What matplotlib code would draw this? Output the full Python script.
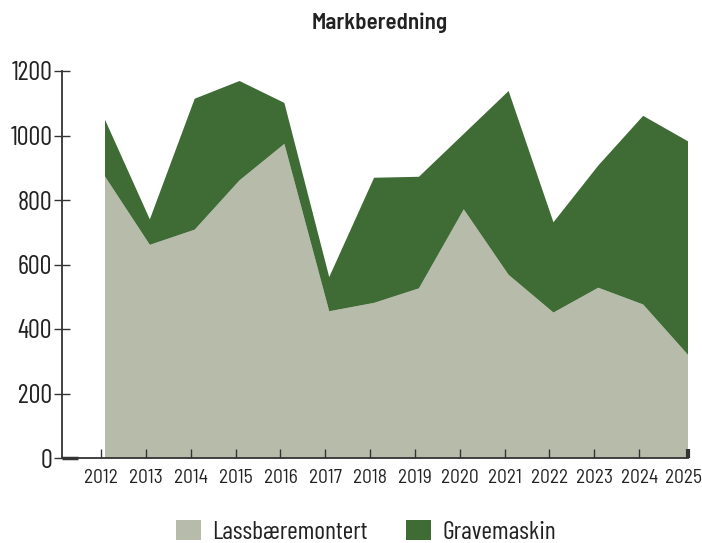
import matplotlib
matplotlib.use("Agg")
import matplotlib.pyplot as plt
from matplotlib.patches import Patch
import numpy as np

years = ["2012", "2013", "2014", "2015", "2016", "2017", "2018",
         "2019", "2020", "2021", "2022", "2023", "2024", "2025"]
lassbaeremontert = [873, 661, 708, 861, 974, 455, 481, 526, 771, 568, 451, 528, 476, 320]
gravemaskin = [176, 79, 406, 308, 127, 106, 388, 346, 234, 570, 280, 379, 585, 662]
series_names = ["Lassbæremontert", "Gravemaskin"]
colors = ["#B7BCAA", "#3F6C35"]
title = "Markberedning"
yticks = [0, 200, 400, 600, 800, 1000, 1200]

FONT = "Barlow Condensed"
FONT2 = "Barlow Semi Condensed"
SPINE = "#333333"

fig = plt.figure(figsize=(7.02, 5.43), dpi=100)
ax = fig.add_axes([62 / 702, 1 - 458 / 543, (688 - 62) / 702, (458 - 71) / 543])

x = np.arange(len(years))
ax.stackplot(x, lassbaeremontert, gravemaskin, colors=colors, linewidth=0)

ax.set_xlim(-0.959, len(years) - 1)
ax.set_ylim(0, 1200)

for s in ["top", "right"]:
    ax.spines[s].set_visible(False)
for s in ["left", "bottom"]:
    ax.spines[s].set_color(SPINE)
    ax.spines[s].set_linewidth(1.3)

# y axis
ax.set_yticks(yticks)
ax.set_yticklabels([str(v) for v in yticks], fontfamily=FONT, fontsize=19, color="#222222")
ax.tick_params(axis="y", direction="inout", length=12, width=1.0, color=SPINE, pad=1)

# x axis: tick marks
xt = x - 0.09
xt[-1] = x[-1]
ax.set_xticks(xt)
ax.set_xticklabels([""] * len(years))
ax.tick_params(axis="x", direction="in", length=6.5, width=1.0, color=SPINE)
ticks = ax.xaxis.get_major_ticks()
ticks[-1].tick1line.set_markeredgewidth(3)
ticks[-1].tick1line.set_color("#111111")

# x labels
xl = x - 0.08
xl[-1] = x[-1] - 0.1
for xi, lab in zip(xl, years):
    ax.text(xi, -0.052, lab, transform=ax.get_xaxis_transform(), ha="center", va="center",
            fontfamily=FONT2, fontsize=14, color="#222222")

# short thicker segment on the x axis near the origin
ax.plot([0, 0.025], [0, 0], transform=ax.transAxes, color=SPINE, lw=2.5,
        clip_on=False, solid_capstyle="butt", zorder=5)

fig.text(380 / 702, 1 - 23 / 543, title, ha="center", va="center",
         fontfamily=FONT2, fontweight=600, fontsize=16.5, color="#222222")

handles = [Patch(facecolor=c, edgecolor="none", label=n) for c, n in zip(colors, series_names)]
fig.legend(handles=handles, loc="center", bbox_to_anchor=(366 / 702, 1 - 532 / 543),
           ncol=2, frameon=False, prop={"family": FONT, "size": 18.5},
           handlelength=0.95, handleheight=0.85, handletextpad=0.45, columnspacing=1.5,
           borderpad=0, borderaxespad=0, labelcolor="#222222")

fig.savefig("out.png", dpi=100)
